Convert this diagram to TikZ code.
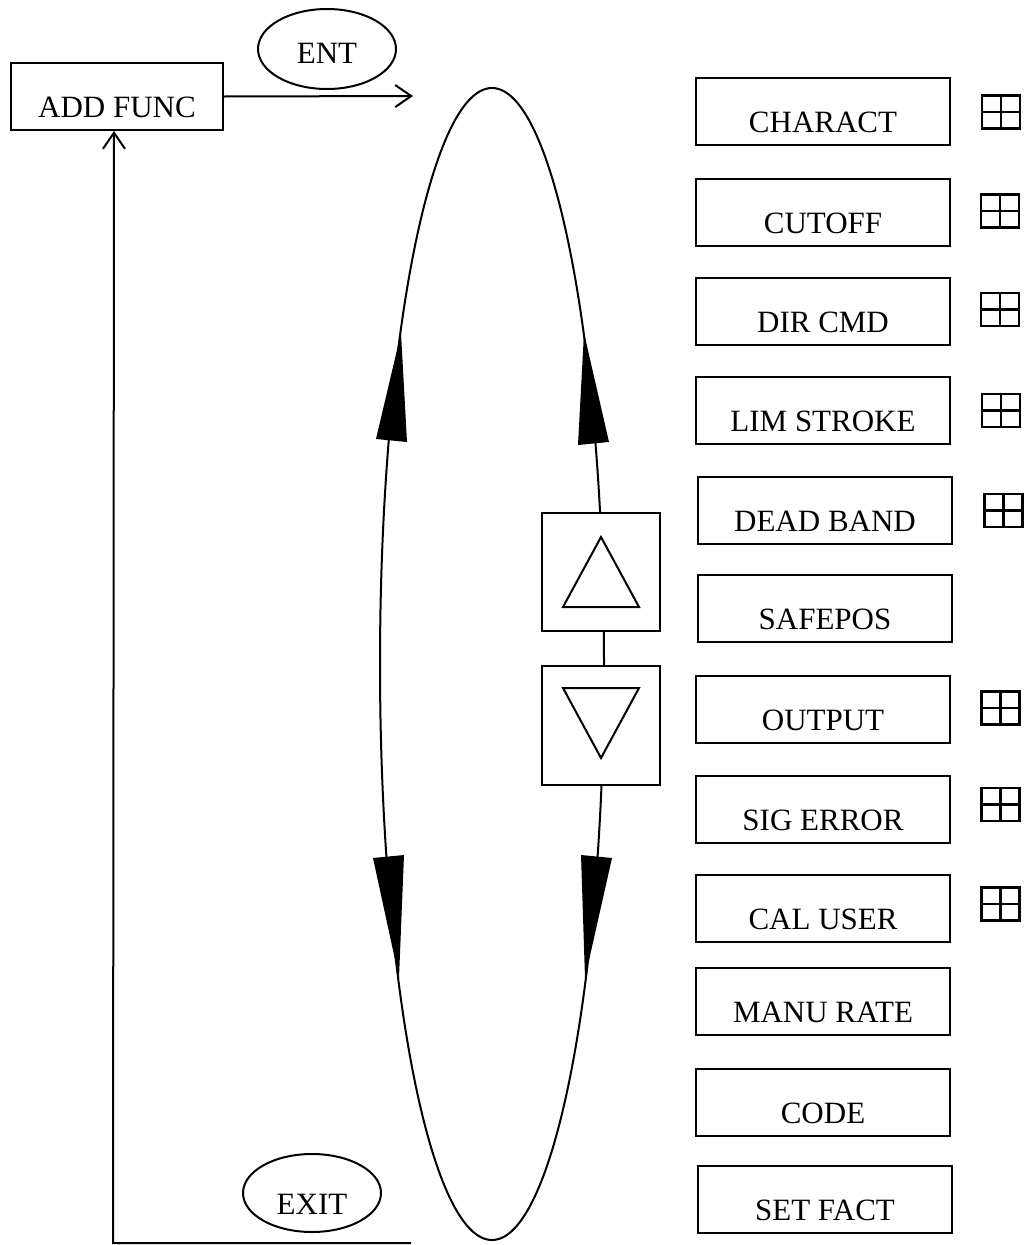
\documentclass[tikz,border=0pt]{standalone}
\usepackage{fontspec}
\setmainfont{Liberation Serif}
\usetikzlibrary{arrows.meta,shapes.geometric}
\begin{document}
\begin{tikzpicture}[x=1pt,y=-1pt, line width=2pt,
  lbl/.style={font=\fontsize{31}{36}\selectfont},
  fbox/.style={lbl, draw, inner sep=0pt, minimum height=67pt, text height=54pt, text depth=13pt, anchor=north west},
  menu/.style={fbox, minimum width=254pt},
  oval/.style={lbl, draw, ellipse, inner sep=0pt, text depth=0pt},
  keybox/.style={draw, fill=white, minimum width=118pt, minimum height=118pt, inner sep=0pt},
  conn/.style={-{Straight Barb[length=16pt,width=22pt]}},
  tri/.style={fill=black, line width=0.5pt, line join=miter},
  gridicon/.pic={\draw[line width=2.5pt] (-19,-16.5) rectangle (19,16.5);
                 \draw[line width=2.5pt] (0,-16.5) -- (0,16.5) (-19,0) -- (19,0);}
]
\useasboundingbox (0,0) rectangle (1025,1245);

% big loop
\draw (492,664) ellipse [x radius=112pt, y radius=576pt];

% arrowheads on the loop
\fill[tri] (401,333) -- (376,439) -- (407,442) -- cycle;
\fill[tri] (584,333) -- (578,445) -- (609,442) -- cycle;
\fill[tri] (399,978) -- (373,858) -- (404,855) -- cycle;
\fill[tri] (585,978) -- (581,855) -- (612,858) -- cycle;

% up / down keys
\node[keybox] (up) at (601,572) {};
\node[keybox, minimum height=119pt] (down) at (601,725.5) {};
\draw (563,607) -- (639,607) -- (601,537) -- cycle;
\draw (563,688) -- (639,688) -- (601,758) -- cycle;

% left side
\node[fbox, minimum width=212pt] (addfunc) at (10,62) {ADD FUNC};
\node[oval, minimum width=138pt, minimum height=80pt, text height=28pt] (ent) at (327,49) {ENT};
\node[oval, minimum width=138pt, minimum height=78pt, text height=42pt] (exit) at (312,1193) {EXIT};
\coordinate (entend) at (413,96);
\coordinate (loopend) at (411,1243);
\draw[conn] (addfunc.east) -- (entend);
\draw[conn] (loopend) -- (113,1243) -- ([xshift=-3pt]addfunc.south);

% menu boxes
\node[menu] (charact) at (695,77)  {CHARACT};
\node[menu] (cutoff)  at (695,178) {CUTOFF};
\node[menu] (dircmd)  at (695,277) {DIR CMD};
\node[menu] (limstr)  at (695,376) {LIM STROKE};
\node[menu] (dead)    at (697,476) {DEAD BAND};
\node[menu] (safepos) at (697,574) {SAFEPOS};
\node[menu] (output)  at (695,675) {OUTPUT};
\node[menu] (sigerr)  at (695,775) {SIG ERROR};
\node[menu] (caluser) at (695,874) {CAL USER};
\node[menu] (manu)    at (695,967) {MANU RATE};
\node[menu] (code)    at (695,1068) {CODE};
\node[menu] (setfact) at (697,1165) {SET FACT};

% grid icons
\pic at (1001,112) {gridicon};
\pic at (1000,211) {gridicon};
\pic at (1000,309.5) {gridicon};
\pic at (1001,410.5) {gridicon};
\pic at (1003.5,510.5) {gridicon};
\pic at (1000.5,708) {gridicon};
\pic at (1000.5,804.5) {gridicon};
\pic at (1000.5,904) {gridicon};
\end{tikzpicture}
\end{document}
